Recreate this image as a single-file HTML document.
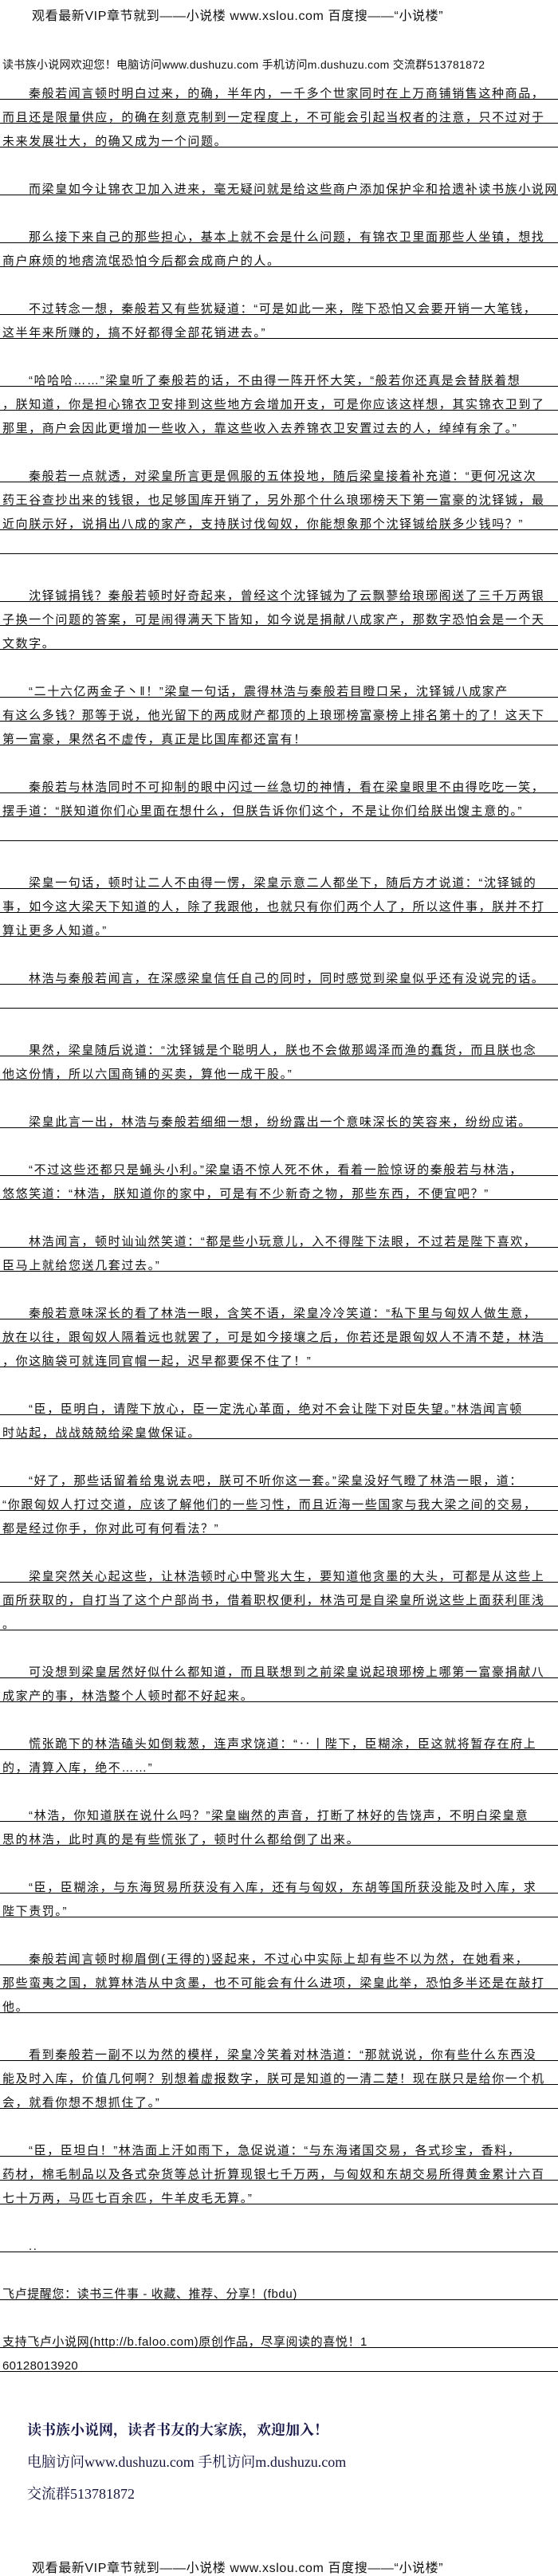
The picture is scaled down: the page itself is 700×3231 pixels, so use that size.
<!DOCTYPE html>
<html><head><meta charset="utf-8">
<style>
html,body{margin:0;padding:0;background:#fff;}
body{width:700px;height:3230px;position:relative;overflow:hidden;font-family:"Liberation Sans","Noto Sans CJK SC","WenQuanYi Zen Hei",sans-serif;color:#111;}
.l{position:absolute;left:0;width:697px;height:19px;line-height:26px;border-bottom:1px solid #000;padding-left:3px;font-size:15px;letter-spacing:1.6px;white-space:nowrap;}
.i{padding-left:36px;}
.t{position:absolute;white-space:nowrap;font-size:15px;}
.b{position:absolute;left:34px;white-space:nowrap;font-family:"Liberation Serif","Noto Serif CJK SC",serif;font-weight:bold;font-size:18px;color:#1a1a4a;}
</style></head><body>
<div class="t" style="top:6px;left:40px;font-size:16px;letter-spacing:0.6px">观看最新VIP章节就到——小说楼 www.xslou.com 百度搜——“小说楼”</div>
<div class="t" style="top:71px;left:3px;font-size:14px;letter-spacing:0.3px">读书族小说网欢迎您！电脑访问www.dushuzu.com 手机访问m.dushuzu.com 交流群513781872</div>

<div class="l i" style="top:105px">秦般若闻言顿时明白过来，的确，半年内，一千多个世家同时在上万商铺销售这种商品，</div>
<div class="l" style="top:135px">而且还是限量供应，的确在刻意克制到一定程度上，不可能会引起当权者的注意，只不过对于</div>
<div class="l" style="top:165px">未来发展壮大，的确又成为一个问题。</div>
<div class="l i" style="top:225px">而梁皇如今让锦衣卫加入进来，毫无疑问就是给这些商户添加保护伞和拾遗补读书族小说网</div>
<div class="l i" style="top:285px">那么接下来自己的那些担心，基本上就不会是什么问题，有锦衣卫里面那些人坐镇，想找</div>
<div class="l" style="top:315px">商户麻烦的地痞流氓恐怕今后都会成商户的人。</div>
<div class="l i" style="top:375px">不过转念一想，秦般若又有些犹疑道：“可是如此一来，陛下恐怕又会要开销一大笔钱，</div>
<div class="l" style="top:405px">这半年来所赚的，搞不好都得全部花销进去。”</div>
<div class="l i" style="top:465px">“哈哈哈……”梁皇听了秦般若的话，不由得一阵开怀大笑，“般若你还真是会替朕着想</div>
<div class="l" style="top:495px">，朕知道，你是担心锦衣卫安排到这些地方会增加开支，可是你应该这样想，其实锦衣卫到了</div>
<div class="l" style="top:525px">那里，商户会因此更增加一些收入，靠这些收入去养锦衣卫安置过去的人，绰绰有余了。”</div>
<div class="l i" style="top:585px">秦般若一点就透，对梁皇所言更是佩服的五体投地，随后梁皇接着补充道：“更何况这次</div>
<div class="l" style="top:615px">药王谷查抄出来的钱银，也足够国库开销了，另外那个什么琅琊榜天下第一富豪的沈铎铖，最</div>
<div class="l" style="top:645px">近向朕示好，说捐出八成的家产，支持朕讨伐匈奴，你能想象那个沈铎铖给朕多少钱吗？”</div>
<div class="l" style="top:675px"></div>
<div class="l i" style="top:735px">沈铎铖捐钱？秦般若顿时好奇起来，曾经这个沈铎铖为了云飘蓼给琅琊阁送了三千万两银</div>
<div class="l" style="top:765px">子换一个问题的答案，可是闹得满天下皆知，如今说是捐献八成家产，那数字恐怕会是一个天</div>
<div class="l" style="top:795px">文数字。</div>
<div class="l i" style="top:855px">“二十六亿两金子丶‖！”梁皇一句话，震得林浩与秦般若目瞪口呆，沈铎铖八成家产</div>
<div class="l" style="top:885px">有这么多钱？那等于说，他光留下的两成财产都顶的上琅琊榜富豪榜上排名第十的了！这天下</div>
<div class="l" style="top:915px">第一富豪，果然名不虚传，真正是比国库都还富有！</div>
<div class="l i" style="top:975px">秦般若与林浩同时不可抑制的眼中闪过一丝急切的神情，看在梁皇眼里不由得吃吃一笑，</div>
<div class="l" style="top:1005px">摆手道：“朕知道你们心里面在想什么，但朕告诉你们这个，不是让你们给朕出馊主意的。”</div>
<div class="l" style="top:1035px"></div>
<div class="l i" style="top:1095px">梁皇一句话，顿时让二人不由得一愣，梁皇示意二人都坐下，随后方才说道：“沈铎铖的</div>
<div class="l" style="top:1125px">事，如今这大梁天下知道的人，除了我跟他，也就只有你们两个人了，所以这件事，朕并不打</div>
<div class="l" style="top:1155px">算让更多人知道。”</div>
<div class="l i" style="top:1215px">林浩与秦般若闻言，在深感梁皇信任自己的同时，同时感觉到梁皇似乎还有没说完的话。</div>
<div class="l" style="top:1245px"></div>
<div class="l i" style="top:1305px">果然，梁皇随后说道：“沈铎铖是个聪明人，朕也不会做那竭泽而渔的蠢货，而且朕也念</div>
<div class="l" style="top:1335px">他这份情，所以六国商铺的买卖，算他一成干股。”</div>
<div class="l i" style="top:1395px">梁皇此言一出，林浩与秦般若细细一想，纷纷露出一个意味深长的笑容来，纷纷应诺。</div>
<div class="l i" style="top:1455px">“不过这些还都只是蝇头小利。”梁皇语不惊人死不休，看着一脸惊讶的秦般若与林浩，</div>
<div class="l" style="top:1485px">悠悠笑道：“林浩，朕知道你的家中，可是有不少新奇之物，那些东西，不便宜吧？”</div>
<div class="l i" style="top:1545px">林浩闻言，顿时讪讪然笑道：“都是些小玩意儿，入不得陛下法眼，不过若是陛下喜欢，</div>
<div class="l" style="top:1575px">臣马上就给您送几套过去。”</div>
<div class="l i" style="top:1635px">秦般若意味深长的看了林浩一眼，含笑不语，梁皇冷冷笑道：“私下里与匈奴人做生意，</div>
<div class="l" style="top:1665px">放在以往，跟匈奴人隔着远也就罢了，可是如今接壤之后，你若还是跟匈奴人不清不楚，林浩</div>
<div class="l" style="top:1695px">，你这脑袋可就连同官帽一起，迟早都要保不住了！”</div>
<div class="l i" style="top:1755px">“臣，臣明白，请陛下放心，臣一定洗心革面，绝对不会让陛下对臣失望。”林浩闻言顿</div>
<div class="l" style="top:1785px">时站起，战战兢兢给梁皇做保证。</div>
<div class="l i" style="top:1845px">“好了，那些话留着给鬼说去吧，朕可不听你这一套。”梁皇没好气瞪了林浩一眼，道：</div>
<div class="l" style="top:1875px">“你跟匈奴人打过交道，应该了解他们的一些习性，而且近海一些国家与我大梁之间的交易，</div>
<div class="l" style="top:1905px">都是经过你手，你对此可有何看法？”</div>
<div class="l i" style="top:1965px">梁皇突然关心起这些，让林浩顿时心中警兆大生，要知道他贪墨的大头，可都是从这些上</div>
<div class="l" style="top:1995px">面所获取的，自打当了这个户部尚书，借着职权便利，林浩可是自梁皇所说这些上面获利匪浅</div>
<div class="l" style="top:2025px">。</div>
<div class="l i" style="top:2085px">可没想到梁皇居然好似什么都知道，而且联想到之前梁皇说起琅琊榜上哪第一富豪捐献八</div>
<div class="l" style="top:2115px">成家产的事，林浩整个人顿时都不好起来。</div>
<div class="l i" style="top:2175px">慌张跪下的林浩磕头如倒栽葱，连声求饶道：“‥丨陛下，臣糊涂，臣这就将暂存在府上</div>
<div class="l" style="top:2205px">的，清算入库，绝不……”</div>
<div class="l i" style="top:2265px">“林浩，你知道朕在说什么吗？”梁皇幽然的声音，打断了林好的告饶声，不明白梁皇意</div>
<div class="l" style="top:2295px">思的林浩，此时真的是有些慌张了，顿时什么都给倒了出来。</div>
<div class="l i" style="top:2355px">“臣，臣糊涂，与东海贸易所获没有入库，还有与匈奴，东胡等国所获没能及时入库，求</div>
<div class="l" style="top:2385px">陛下责罚。”</div>
<div class="l i" style="top:2445px">秦般若闻言顿时柳眉倒(王得的)竖起来，不过心中实际上却有些不以为然，在她看来，</div>
<div class="l" style="top:2475px">那些蛮夷之国，就算林浩从中贪墨，也不可能会有什么进项，梁皇此举，恐怕多半还是在敲打</div>
<div class="l" style="top:2505px">他。</div>
<div class="l i" style="top:2565px">看到秦般若一副不以为然的模样，梁皇冷笑着对林浩道：“那就说说，你有些什么东西没</div>
<div class="l" style="top:2595px">能及时入库，价值几何啊？别想着虚报数字，朕可是知道的一清二楚！现在朕只是给你一个机</div>
<div class="l" style="top:2625px">会，就看你想不想抓住了。”</div>
<div class="l i" style="top:2685px">“臣，臣坦白！”林浩面上汗如雨下，急促说道：“与东海诸国交易，各式珍宝，香料，</div>
<div class="l" style="top:2715px">药材，棉毛制品以及各式杂货等总计折算现银七千万两，与匈奴和东胡交易所得黄金累计六百</div>
<div class="l" style="top:2745px">七十万两，马匹七百余匹，牛羊皮毛无算。”</div>
<div class="l i" style="top:2805px">..</div>
<div class="l" style="top:2865px;letter-spacing:0.6px">飞卢提醒您：读书三件事 - 收藏、推荐、分享！(fbdu)</div>
<div class="l" style="top:2925px;letter-spacing:0.6px">支持飞卢小说网(http://b.faloo.com)原创作品，尽享阅读的喜悦！1</div>
<div class="l" style="top:2955px;letter-spacing:0.3px">60128013920</div>

<div class="b" style="top:3034px">读书族小说网，读者书友的大家族，欢迎加入！</div>
<div class="b" style="top:3074px;font-weight:normal;color:#14143c">电脑访问www.dushuzu.com 手机访问m.dushuzu.com</div>
<div class="b" style="top:3114px;font-weight:normal;color:#14143c">交流群513781872</div>

<div class="t" style="top:3207px;left:40px;font-size:16px;letter-spacing:0.6px">观看最新VIP章节就到——小说楼 www.xslou.com 百度搜——“小说楼”</div>
</body></html>
